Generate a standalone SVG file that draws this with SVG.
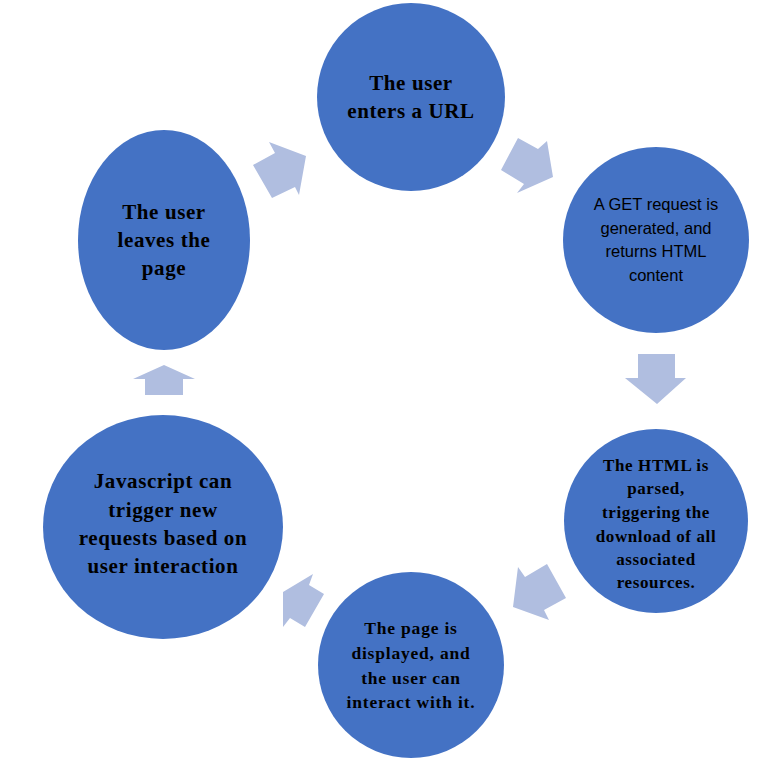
<svg xmlns="http://www.w3.org/2000/svg" width="777" height="775" viewBox="0 0 777 775">
<style>
.n{fill:#4472C4}
.a{fill:#B0BEE0}
.s{font-family:"Liberation Serif",serif;font-weight:bold;fill:#000;text-anchor:middle}
.l{font-size:21px;letter-spacing:0.6px}
.m{font-size:17px;letter-spacing:0.6px}
.ss{font-family:"Liberation Sans",sans-serif;fill:#000;text-anchor:middle;font-size:16.5px}
</style>
<rect width="777" height="775" fill="#fff"/>
<g id="connectors">
<polygon class="a" points="306,156 269,142 275,153 253,165 272,198 295,187 299,195"/>
<polygon class="a" points="518,138 538,149 547,141 553,177 517,193 524,184 501,170"/>
<polygon class="a" points="638,354 675,354 675,378 686,378 657,404 625,378 638,378"/>
<polygon class="a" points="513,607 518,567 525,577 547,564 566,598 544,610 549,620"/>
<polygon class="a" points="283,592 313,574 309,585 324,594 305,627 290,618 283,627"/>
<polygon class="a" points="164,365 195,379 183,379 183,395 145,395 145,379 133,379"/>
</g>
<g id="n1"><circle class="n" cx="411" cy="97" r="94"/>
<text class="s l"><tspan x="411" y="90">The user</tspan><tspan x="411" y="118">enters a URL</tspan></text></g>
<g id="n2"><circle class="n" cx="656" cy="240" r="93"/>
<text class="ss"><tspan x="656" y="210">A GET request is</tspan><tspan x="656" y="234">generated, and</tspan><tspan x="656" y="257">returns HTML</tspan><tspan x="656" y="281">content</tspan></text></g>
<g id="n3"><circle class="n" cx="656" cy="521" r="92"/>
<text class="s m"><tspan x="656" y="471">The HTML is</tspan><tspan x="656" y="494">parsed,</tspan><tspan x="656" y="518">triggering the</tspan><tspan x="656" y="542">download of all</tspan><tspan x="656" y="565">associated</tspan><tspan x="656" y="588">resources.</tspan></text></g>
<g id="n4"><circle class="n" cx="411" cy="665" r="93"/>
<text class="s" font-size="17.5" letter-spacing="0.8"><tspan x="411" y="634">The page is</tspan><tspan x="411" y="659">displayed, and</tspan><tspan x="411" y="684">the user can</tspan><tspan x="411" y="708">interact with it.</tspan></text></g>
<g id="n5"><ellipse class="n" cx="163" cy="527" rx="120" ry="112"/>
<text class="s l"><tspan x="163" y="488">Javascript can</tspan><tspan x="163" y="517">trigger new</tspan><tspan x="163" y="545">requests based on</tspan><tspan x="163" y="573">user interaction</tspan></text></g>
<g id="n6"><ellipse class="n" cx="164" cy="240" rx="86" ry="110"/>
<text class="s l"><tspan x="164" y="219">The user</tspan><tspan x="164" y="247">leaves the</tspan><tspan x="164" y="275">page</tspan></text></g>
</svg>
